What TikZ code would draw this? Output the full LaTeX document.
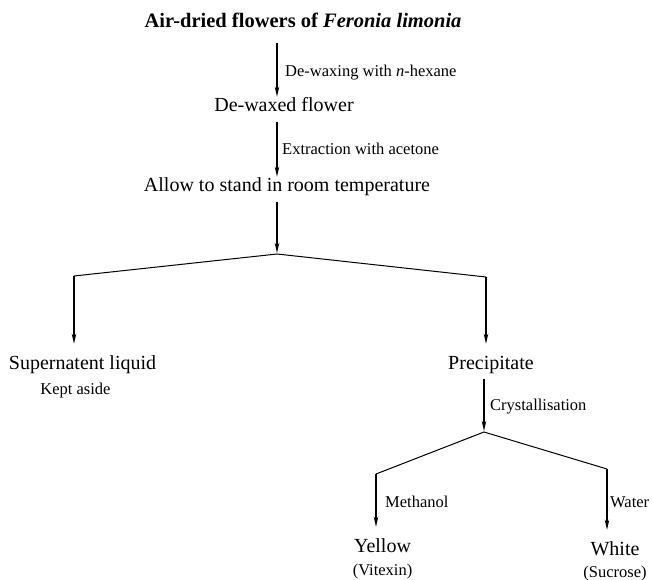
\documentclass[tikz,border=0pt]{standalone}
\usepackage{fontspec}
\setmainfont{Liberation Serif}
\usetikzlibrary{arrows.meta}

\begin{document}
\begin{tikzpicture}[x=1pt,y=-1pt,
	big/.style={font=\fontsize{20}{24}\selectfont, inner sep=0pt, text height=14pt, text depth=4pt, anchor=base},
	small/.style={font=\fontsize{16.5}{20}\selectfont, inner sep=0pt, anchor=base},
	lbl/.style={font=\fontsize{16.5}{20}\selectfont, inner sep=0pt, anchor=base west},
	flow/.style={-{Stealth[length=10pt,width=4.5pt,inset=3pt]}, line width=1.6pt, shorten <=6pt, shorten >=1pt},
	branch/.style={-{Stealth[length=10pt,width=4.5pt,inset=3pt]}, line width=1.4pt, shorten >=11pt},
	split/.style={line width=1pt}]
	\useasboundingbox (0,0) rectangle (653,580);

	% stages
	\node[big, font=\fontsize{20.5}{24}\selectfont\bfseries] (title) at (303,28) {Air-dried flowers of \textit{Feronia limonia}};
	\node[big] (dewaxed) at (284,112) {De-waxed flower};
	\node[big] (allow) at (287,192) {Allow to stand in room temperature};
	\node[big] (sup) at (82.5,369) {Supernatent liquid};
	\node[small] (kept) at (75.5,394) {Kept aside};
	\node[big] (prec) at (491,369) {Precipitate};
	\node[big] (yellow) at (382.5,552) {Yellow};
	\node[small] (vitexin) at (382.5,575) {(Vitexin)};
	\node[big] (white) at (615,555) {White};
	\node[small] (sucrose) at (615,577) {(Sucrose)};

	% steps
	\node[lbl] (dewax) at (285,77) {De-waxing with \textit{n}-hexane};
	\node[lbl] (extract) at (282,155) {Extraction with acetone};
	\node[lbl] (cryst) at (490,410) {Crystallisation};
	\node[lbl] (meoh) at (385,507) {Methanol};
	\node[lbl] (water) at (610,507) {Water};

	\coordinate (split1) at (277,254);
	\coordinate (split2) at (484,432);
	\coordinate (lcorner) at (74,276);
	\coordinate (rcorner) at (486,277);
	\coordinate (ycorner) at (376,474);
	\coordinate (wcorner) at (607,469);

	\draw[flow, shorten <=11pt] (title.south -| split1) -- (dewaxed.north -| split1);
	\draw[flow] (dewaxed.south -| split1) -- (allow.north -| split1);
	\draw[flow] (allow.south -| split1) -- (split1);
	\draw[split] (lcorner) -- (split1) -- (rcorner);
	\draw[branch] (lcorner) -- (lcorner |- sup.north);
	\draw[branch] (rcorner) -- (rcorner |- prec.north);

	\draw[flow] (prec.south -| split2) -- (split2);
	\draw[split] (ycorner) -- (split2) -- (wcorner);
	\draw[branch] (ycorner) -- (ycorner |- yellow.north);
	\draw[branch] (wcorner) -- (wcorner |- white.north);
\end{tikzpicture}
\end{document}
